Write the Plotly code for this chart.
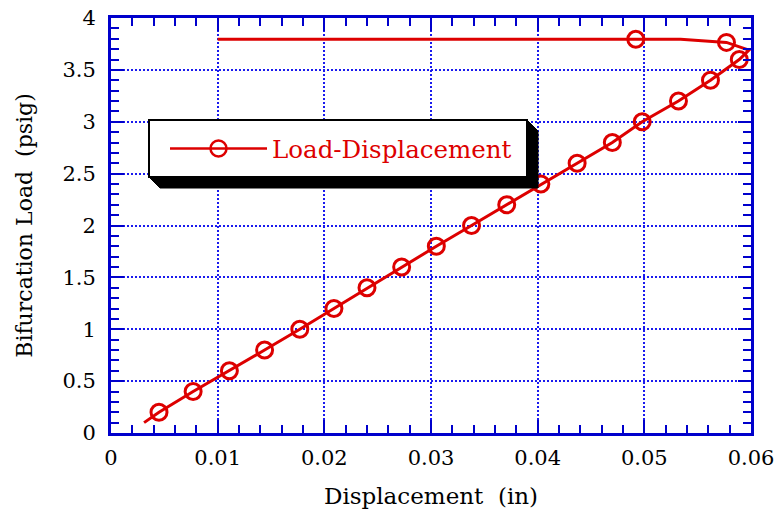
import plotly.graph_objects as go

# Load-displacement path (in order along the curve)
disp = [0.0031, 0.0045, 0.0077, 0.0111, 0.0144, 0.0177, 0.0209, 0.0240, 0.02725,
        0.0305, 0.0338, 0.0371, 0.0403, 0.0437, 0.0470, 0.0498, 0.0532, 0.0562,
        0.0589, 0.0598, 0.0577, 0.0534, 0.0492, 0.0100]
load = [0.10, 0.20, 0.40, 0.60, 0.80, 1.00, 1.20, 1.40, 1.60,
        1.80, 2.00, 2.20, 2.40, 2.60, 2.80, 3.00, 3.20, 3.40,
        3.60, 3.69, 3.765, 3.795, 3.795, 3.795]
# which path points carry a circle marker
marked = [0, 1, 1, 1, 1, 1, 1, 1, 1,
          1, 1, 1, 1, 1, 1, 1, 1, 1,
          1, 0, 1, 0, 1, 0]

series_name = "Load-Displacement"
x_title = "Displacement  (in)"
y_title = "Bifurcation Load  (psig)"

RED = "#dd0000"
BLUE = "#0000cc"
GRID = "#1a1aee"

mx = [x for x, m in zip(disp, marked) if m]
my = [y for y, m in zip(load, marked) if m]

fig = go.Figure()
fig.add_trace(go.Scatter(x=disp, y=load, mode="lines",
                         line=dict(color=RED, width=3), showlegend=False,
                         hoverinfo="skip"))
fig.add_trace(go.Scatter(x=mx, y=my, mode="markers",
                         marker=dict(symbol="circle-open", size=16, color=RED,
                                     line=dict(color=RED, width=3)),
                         showlegend=False))
# legend entry
fig.add_trace(go.Scatter(x=[None], y=[None], mode="lines+markers", name=series_name,
                         line=dict(color=RED, width=2.5),
                         marker=dict(symbol="circle-open", size=16, color=RED,
                                     line=dict(color=RED, width=2.5))))

L, R, T, B = 111, 27, 18, 89
W, H = 778, 522
pw, ph = W - L - R, H - T - B

def px2paper(px, py):
    return (px - L) / pw, (H - B - py) / ph

# legend box with shadow
bx0, by0, bx1, by1 = 149, 120, 527, 177
off = 11
pts = [(bx1, by0), (bx1 + off, by0 + off), (bx1 + off, by1 + off),
       (bx0 + off, by1 + off), (bx0, by1)]
path = "M " + " L ".join("%f,%f" % px2paper(a, b) for a, b in pts) + " Z"
fig.add_shape(type="path", xref="paper", yref="paper", path=path,
              fillcolor="black", line=dict(color="black", width=1))
x0p, y1p = px2paper(bx0, by0)
x1p, y0p = px2paper(bx1, by1)
fig.add_shape(type="rect", xref="paper", yref="paper", x0=x0p, y0=y0p, x1=x1p, y1=y1p,
              fillcolor="white", line=dict(color="black", width=2))

lx, ly = px2paper(bx0 + 16, (by0 + by1) / 2)

axis_common = dict(
    showline=True, linecolor=BLUE, linewidth=3, mirror="allticks",
    ticks="inside", ticklen=13, tickwidth=2, tickcolor=BLUE,
    showgrid=True, gridcolor=GRID, gridwidth=2, griddash="2px,2px",
    zeroline=False, automargin=False,
    tickfont=dict(family="DejaVu Serif", size=21, color="black"),
)

fig.update_layout(
    width=W, height=H,
    margin=dict(l=L, r=R, t=T, b=B, autoexpand=False),
    paper_bgcolor="white", plot_bgcolor="white",
    xaxis=dict(range=[0, 0.06], dtick=0.01, tick0=0,
               minor=dict(dtick=0.002, ticks="inside", ticklen=8, tickwidth=2,
                          tickcolor=BLUE, showgrid=False),
               ticklabelstandoff=4,
               title=dict(text=x_title, standoff=19,
                          font=dict(family="DejaVu Serif", size=23, color="black")),
               **axis_common),
    yaxis=dict(range=[0, 4], dtick=0.5, tick0=0,
               minor=dict(dtick=0.1, ticks="inside", ticklen=8, tickwidth=2,
                          tickcolor=BLUE, showgrid=False),
               ticklabelstandoff=8,
               title=dict(text=y_title, standoff=24,
                          font=dict(family="DejaVu Serif", size=22, color="black")),
               **axis_common),
    legend=dict(x=lx, y=ly, xanchor="left", yanchor="middle",
                bgcolor="rgba(0,0,0,0)", borderwidth=0,
                itemwidth=97,
                font=dict(family="DejaVu Serif", size=24.5, color=RED)),
    showlegend=True,
)

fig.write_html("out.html",
               config={"displayModeBar": False},
               post_script="document.body.style.margin='0';document.body.style.overflow='hidden';")
